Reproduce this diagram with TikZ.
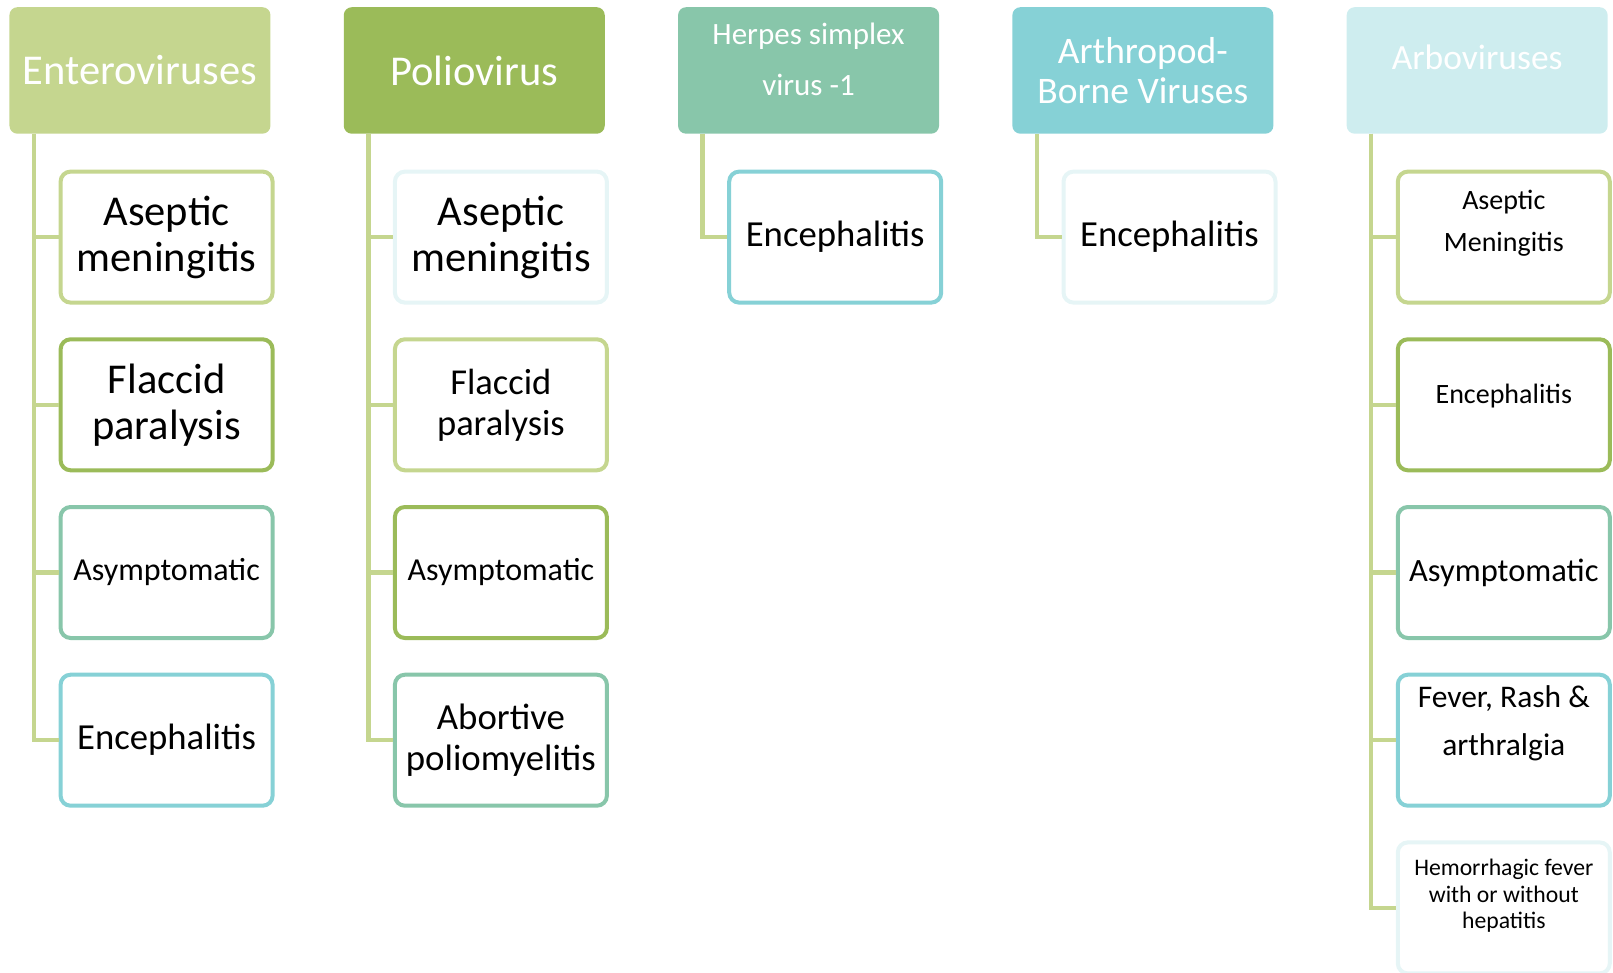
\documentclass[tikz,border=0pt]{standalone}
\usepackage{fontspec}
\setmainfont{Carlito}
\usetikzlibrary{positioning}
\definecolor{lgreen}{HTML}{C5D68F}
\definecolor{dgreen}{HTML}{9BBB59}
\definecolor{tgreen}{HTML}{88C6AA}
\definecolor{cyanb}{HTML}{86D1D6}
\definecolor{paleh}{HTML}{CEEDEF}
\definecolor{paleb}{HTML}{E6F5F6}

\begin{document}
\begin{tikzpicture}[x=1pt, y=-1pt,
    head/.style={rectangle, rounded corners=8pt, minimum width=261pt, minimum height=126.5pt, inner sep=0pt, text=white, align=center},
    sub/.style={rectangle, draw, line width=4pt, rounded corners=10pt, fill=white, minimum width=212pt, minimum height=131pt, inner sep=0pt, align=center}]
    \tikzset{trunk/.style={draw=lgreen, line width=4.5pt}}
    \tikzset{fsz/.style 2 args={font=\fontsize{#1}{#2}\selectfont}}
    \useasboundingbox (0,0) rectangle (1613,972);
    \def \dx {334.3}

    % headers
    \node[head, fill=lgreen, fsz={42.5}{46}] (ent) at (139.95,70.45) {Enteroviruses};
    \node[head, fill=dgreen, fsz={42.5}{46}] (pol) at (474.25,70.45) {Poliovirus};
    \node[head, fill=tgreen] (hsv) at (808.55,70.45) {};
    \node[text=white, align=center, fsz={31}{51}] (hsvt) at ([yshift=11.3pt]hsv.center) {Herpes simplex\\virus -1};
    \node[head, fill=cyanb, fsz={37.5}{40}] (abv) at (1142.85,70.45) {Arthropod-\\Borne Viruses};
    \node[head, fill=paleh] (arb) at (1477.15,70.45) {};
    \node[text=white, fsz={35.5}{40}] (arbt) at ([yshift=13pt]arb.center) {Arboviruses};

    % Enteroviruses
    \node[sub, draw=lgreen, fsz={42.5}{46}] (ent1) at (166.6,237.1) {Aseptic\\meningitis};
    \node[sub, draw=dgreen, fsz={42.5}{46}] (ent2) at (166.6,404.8) {Flaccid\\paralysis};
    \node[sub, draw=tgreen, fsz={32}{38}] (ent3) at (166.6,572.5) {Asymptomatic};
    \node[sub, draw=cyanb, fsz={36.7}{42}] (ent4) at (166.6,740.2) {Encephalitis};

    % Poliovirus
    \node[sub, draw=paleb, fsz={42.5}{46}] (pol1) at (500.9,237.1) {Aseptic\\meningitis};
    \node[sub, draw=lgreen, fsz={36.5}{41}] (pol2) at (500.9,404.8) {Flaccid\\paralysis};
    \node[sub, draw=dgreen, fsz={32}{38}] (pol3) at (500.9,572.5) {Asymptomatic};
    \node[sub, draw=tgreen, fsz={36.8}{41}] (pol4) at (500.9,740.2) {Abortive\\poliomyelitis};

    % HSV-1 and arthropod-borne
    \node[sub, draw=cyanb, fsz={36.7}{42}] (hsv1) at (835.2,237.1) {Encephalitis};
    \node[sub, draw=paleb, fsz={36.7}{42}] (abv1) at (1169.5,237.1) {Encephalitis};

    % Arboviruses
    \node[sub, draw=lgreen] (arb1) at (1503.8,237.1) {};
    \node[align=center, fsz={28}{42}] (arb1t) at ([yshift=14pt]arb1.center) {Aseptic\\Meningitis};
    \node[sub, draw=dgreen] (arb2) at (1503.8,404.8) {};
    \node[fsz={28}{34}] (arb2t) at ([yshift=9pt]arb2.center) {Encephalitis};
    \node[sub, draw=tgreen, fsz={32.5}{38}] (arb3) at (1503.8,572.5) {Asymptomatic};
    \node[sub, draw=cyanb] (arb4) at (1503.8,740.2) {};
    \node[align=center, fsz={31.5}{48}] (arb4t) at ([yshift=17pt]arb4.center) {Fever, Rash \&\\arthralgia};
    \node[sub, draw=paleb] (arb5) at (1503.8,907.9) {};
    \node[align=center, fsz={23.7}{26.7}] (arb5t) at ([yshift=12pt]arb5.center) {Hemorrhagic fever\\with or without\\hepatitis};

    % connectors
    \foreach \k in {1,...,4} {
    \draw[trunk] ([xshift=24.7pt]ent.south west) |- (ent\k.west);
    \draw[trunk] ([xshift=24.7pt]pol.south west) |- (pol\k.west);
    }
    \draw[trunk] ([xshift=24.7pt]hsv.south west) |- (hsv1.west);
    \draw[trunk] ([xshift=24.7pt]abv.south west) |- (abv1.west);
    \foreach \k in {1,...,5}
    \draw[trunk] ([xshift=24.7pt]arb.south west) |- (arb\k.west);
\end{tikzpicture}
\end{document}
